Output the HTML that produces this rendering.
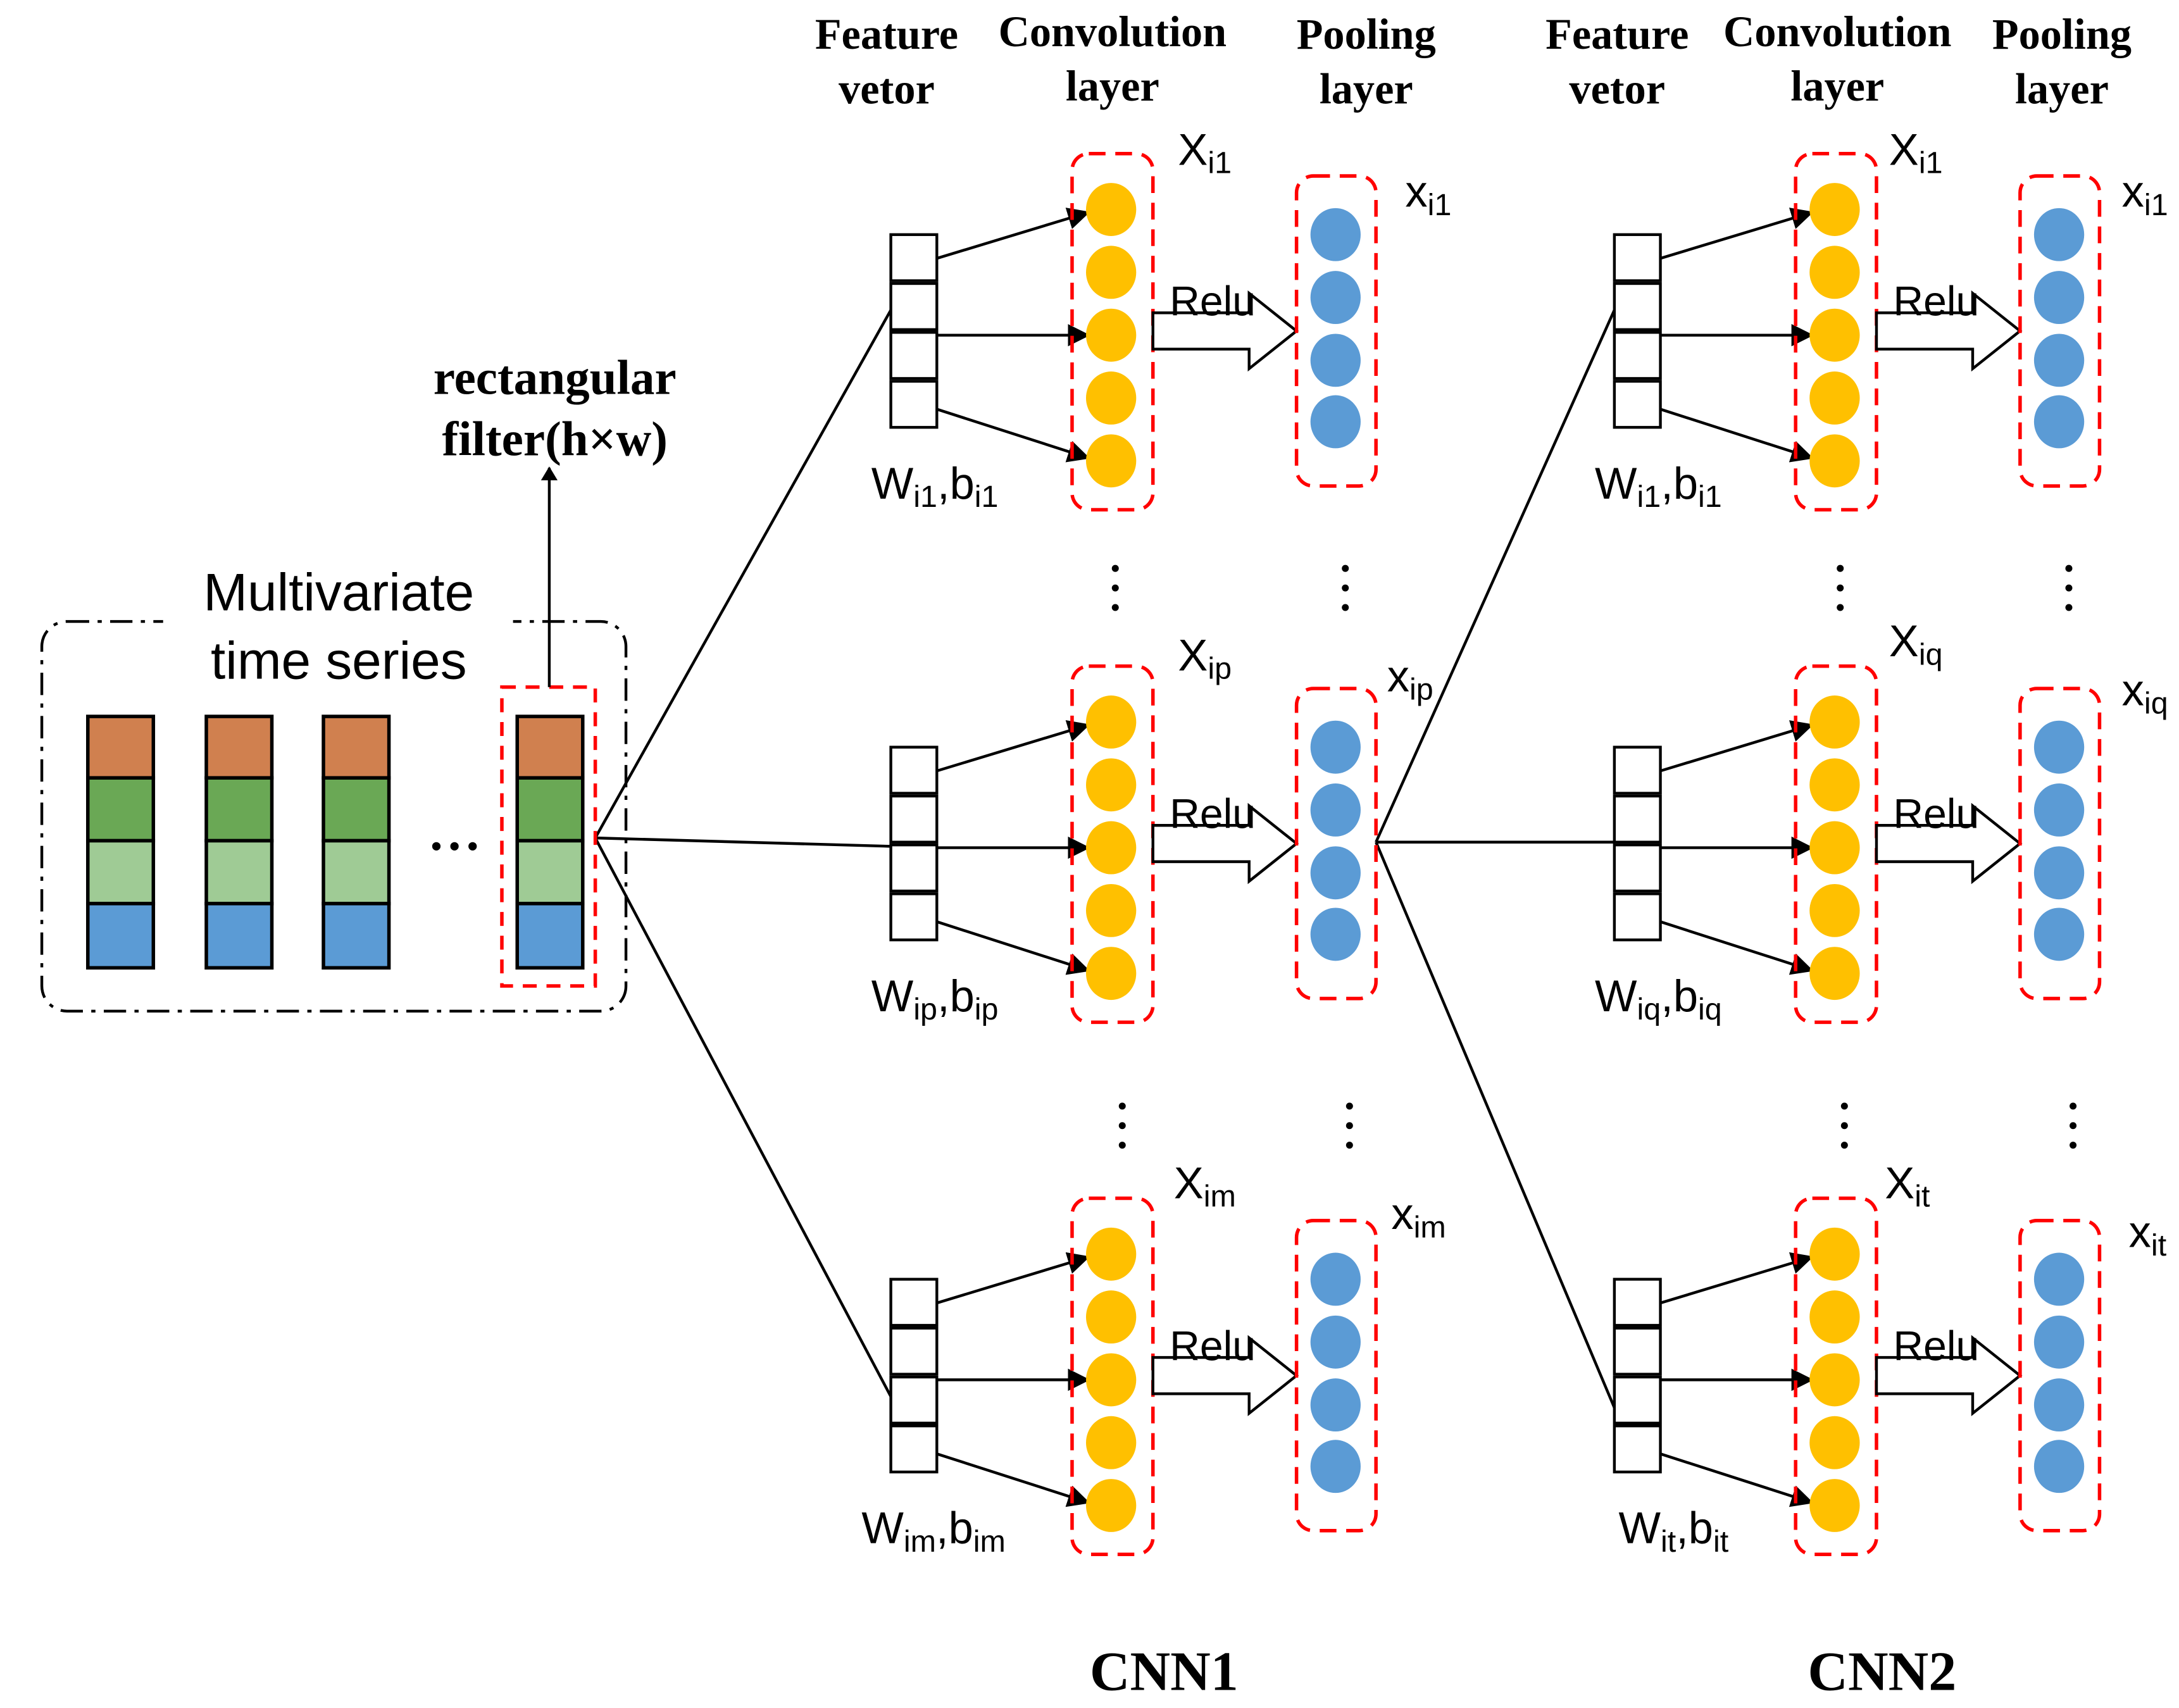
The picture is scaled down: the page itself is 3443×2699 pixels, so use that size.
<!DOCTYPE html>
<html><head><meta charset="utf-8"><style>html,body{margin:0;padding:0;background:#fff}svg{display:block}</style></head><body>
<svg width="3443" height="2699" viewBox="0 0 1563 1223" preserveAspectRatio="none" xmlns="http://www.w3.org/2000/svg">
<defs>
<marker id="ah" markerWidth="10" markerHeight="12" refX="9" refY="6" orient="auto" markerUnits="userSpaceOnUse"><path d="M0,0 L10,6 L0,12 z" fill="#000"/></marker>
<marker id="ah2" markerWidth="16" markerHeight="16" refX="15" refY="8" orient="auto" markerUnits="userSpaceOnUse"><path d="M0,0 L16,8 L0,16 z" fill="#000"/></marker>
<g id="blk">
<rect x="639" y="168" width="33" height="33" fill="#fff" stroke="#000" stroke-width="2"/>
<rect x="639" y="203" width="33" height="33" fill="#fff" stroke="#000" stroke-width="2"/>
<rect x="639" y="238" width="33" height="33" fill="#fff" stroke="#000" stroke-width="2"/>
<rect x="639" y="273" width="33" height="33" fill="#fff" stroke="#000" stroke-width="2"/>
<line x1="672" y1="185" x2="781" y2="152" stroke="#000" stroke-width="2" marker-end="url(#ah2)"/>
<line x1="672" y1="240" x2="781" y2="240" stroke="#000" stroke-width="2" marker-end="url(#ah2)"/>
<line x1="672" y1="293" x2="781" y2="328" stroke="#000" stroke-width="2" marker-end="url(#ah2)"/>
<rect x="769" y="110" width="58" height="255" rx="12" fill="none" stroke="#f00" stroke-width="2.5" stroke-dasharray="12,7"/>
<ellipse cx="797" cy="150" rx="18" ry="19" fill="#FFC000"/>
<ellipse cx="797" cy="195" rx="18" ry="19" fill="#FFC000"/>
<ellipse cx="797" cy="240" rx="18" ry="19" fill="#FFC000"/>
<ellipse cx="797" cy="285" rx="18" ry="19" fill="#FFC000"/>
<ellipse cx="797" cy="330" rx="18" ry="19" fill="#FFC000"/>
<path d="M827,224 L896,224 L896,210 L930,237 L896,264 L896,250 L827,250 z" fill="#fff" stroke="#000" stroke-width="2"/>
<text x="839" y="226" font-family="Liberation Sans Narrow, Liberation Sans, sans-serif" font-size="30">Relu</text>
<rect x="930" y="126" width="57" height="222" rx="12" fill="none" stroke="#f00" stroke-width="2.5" stroke-dasharray="12,7"/>
<ellipse cx="958" cy="168" rx="18" ry="19" fill="#5B9BD5"/>
<ellipse cx="958" cy="213" rx="18" ry="19" fill="#5B9BD5"/>
<ellipse cx="958" cy="258" rx="18" ry="19" fill="#5B9BD5"/>
<ellipse cx="958" cy="302" rx="18" ry="19" fill="#5B9BD5"/>
</g>
</defs>
<g font-family="Liberation Serif, serif" font-weight="bold" font-size="31" text-anchor="middle">
<text x="636" y="35">Feature</text><text x="636" y="74">vetor</text>
<text x="798" y="33">Convolution</text><text x="798" y="72">layer</text>
<text x="980" y="35">Pooling</text><text x="980" y="74">layer</text>
<text x="1160" y="35">Feature</text><text x="1160" y="74">vetor</text>
<text x="1318" y="33">Convolution</text><text x="1318" y="72">layer</text>
<text x="1479" y="35">Pooling</text><text x="1479" y="74">layer</text>
<text x="398" y="282" font-size="35">rectangular</text><text x="398" y="326" font-size="35">filter(h×w)</text>
<text x="835" y="1210" font-size="40">CNN1</text><text x="1350" y="1210" font-size="40">CNN2</text>
</g>
<g stroke="#000" stroke-width="2" fill="none">
<line x1="427" y1="600" x2="639" y2="222"/><line x1="427" y1="600" x2="639" y2="606"/><line x1="427" y1="600" x2="639" y2="1000"/>
<line x1="987" y1="603" x2="1158" y2="222"/><line x1="987" y1="603" x2="1158" y2="603"/><line x1="987" y1="603" x2="1158" y2="1008"/>
</g>
<use href="#blk"/>
<use href="#blk" transform="translate(0,367)"/>
<use href="#blk" transform="translate(0,748)"/>
<use href="#blk" transform="translate(519,0)"/>
<use href="#blk" transform="translate(519,367)"/>
<use href="#blk" transform="translate(519,748)"/>
<rect x="30" y="445" width="419" height="279" rx="18" fill="none" stroke="#000" stroke-width="2" stroke-dasharray="16,6,3,6"/>
<rect x="117" y="400" width="251" height="85" rx="16" fill="#fff"/>
<g font-family="Liberation Sans Narrow, Liberation Sans, sans-serif" font-size="38" text-anchor="middle"><text x="243" y="437">Multivariate</text><text x="243" y="486">time series</text></g>
<g stroke="#000" stroke-width="2.5">
<g fill="#D0804F"><rect x="63" y="513" width="47" height="44"/><rect x="148" y="513" width="47" height="44"/><rect x="232" y="513" width="47" height="44"/><rect x="371" y="513" width="47" height="44"/></g>
<g fill="#6AA855"><rect x="63" y="557" width="47" height="45"/><rect x="148" y="557" width="47" height="45"/><rect x="232" y="557" width="47" height="45"/><rect x="371" y="557" width="47" height="45"/></g>
<g fill="#9FCB95"><rect x="63" y="602" width="47" height="45"/><rect x="148" y="602" width="47" height="45"/><rect x="232" y="602" width="47" height="45"/><rect x="371" y="602" width="47" height="45"/></g>
<g fill="#5B9BD5"><rect x="63" y="647" width="47" height="46"/><rect x="148" y="647" width="47" height="46"/><rect x="232" y="647" width="47" height="46"/><rect x="371" y="647" width="47" height="46"/></g>
</g>
<g fill="#000"><circle cx="313" cy="606" r="3"/><circle cx="326" cy="606" r="3"/><circle cx="339" cy="606" r="3"/></g>
<rect x="360" y="492" width="67" height="214" fill="none" stroke="#f00" stroke-width="2.5" stroke-dasharray="10,7"/>
<line x1="394" y1="492" x2="394" y2="335" stroke="#000" stroke-width="2" marker-end="url(#ah)"/>
<g fill="#000">
<circle cx="800" cy="407" r="2.5"/><circle cx="800" cy="421" r="2.5"/><circle cx="800" cy="435" r="2.5"/>
<circle cx="965" cy="407" r="2.5"/><circle cx="965" cy="421" r="2.5"/><circle cx="965" cy="435" r="2.5"/>
<circle cx="805" cy="792" r="2.5"/><circle cx="805" cy="806" r="2.5"/><circle cx="805" cy="820" r="2.5"/>
<circle cx="968" cy="792" r="2.5"/><circle cx="968" cy="806" r="2.5"/><circle cx="968" cy="820" r="2.5"/>
<circle cx="1320" cy="407" r="2.5"/><circle cx="1320" cy="421" r="2.5"/><circle cx="1320" cy="435" r="2.5"/>
<circle cx="1484" cy="407" r="2.5"/><circle cx="1484" cy="421" r="2.5"/><circle cx="1484" cy="435" r="2.5"/>
<circle cx="1323" cy="792" r="2.5"/><circle cx="1323" cy="806" r="2.5"/><circle cx="1323" cy="820" r="2.5"/>
<circle cx="1487" cy="792" r="2.5"/><circle cx="1487" cy="806" r="2.5"/><circle cx="1487" cy="820" r="2.5"/>
</g>
<g font-family="Liberation Sans Narrow, Liberation Sans, sans-serif" font-size="32">
<text x="845" y="118">X<tspan font-size="22" dy="6">i1</tspan></text>
<text x="1008" y="148">x<tspan font-size="22" dy="6">i1</tspan></text>
<text x="625" y="357">W<tspan font-size="22" dy="6">i1</tspan><tspan dy="-6">,b</tspan><tspan font-size="22" dy="6">i1</tspan></text>
<text x="845" y="480">X<tspan font-size="22" dy="6">ip</tspan></text>
<text x="995" y="495">x<tspan font-size="22" dy="6">ip</tspan></text>
<text x="625" y="724">W<tspan font-size="22" dy="6">ip</tspan><tspan dy="-6">,b</tspan><tspan font-size="22" dy="6">ip</tspan></text>
<text x="842" y="858">X<tspan font-size="22" dy="6">im</tspan></text>
<text x="998" y="880">x<tspan font-size="22" dy="6">im</tspan></text>
<text x="618" y="1105">W<tspan font-size="22" dy="6">im</tspan><tspan dy="-6">,b</tspan><tspan font-size="22" dy="6">im</tspan></text>
<text x="1355" y="118">X<tspan font-size="22" dy="6">i1</tspan></text>
<text x="1522" y="148">x<tspan font-size="22" dy="6">i1</tspan></text>
<text x="1144" y="357">W<tspan font-size="22" dy="6">i1</tspan><tspan dy="-6">,b</tspan><tspan font-size="22" dy="6">i1</tspan></text>
<text x="1355" y="470">X<tspan font-size="22" dy="6">iq</tspan></text>
<text x="1522" y="505">x<tspan font-size="22" dy="6">iq</tspan></text>
<text x="1144" y="724">W<tspan font-size="22" dy="6">iq</tspan><tspan dy="-6">,b</tspan><tspan font-size="22" dy="6">iq</tspan></text>
<text x="1352" y="858">X<tspan font-size="22" dy="6">it</tspan></text>
<text x="1527" y="893">x<tspan font-size="22" dy="6">it</tspan></text>
<text x="1161" y="1105">W<tspan font-size="22" dy="6">it</tspan><tspan dy="-6">,b</tspan><tspan font-size="22" dy="6">it</tspan></text>
</g>
</svg>
</body></html>
